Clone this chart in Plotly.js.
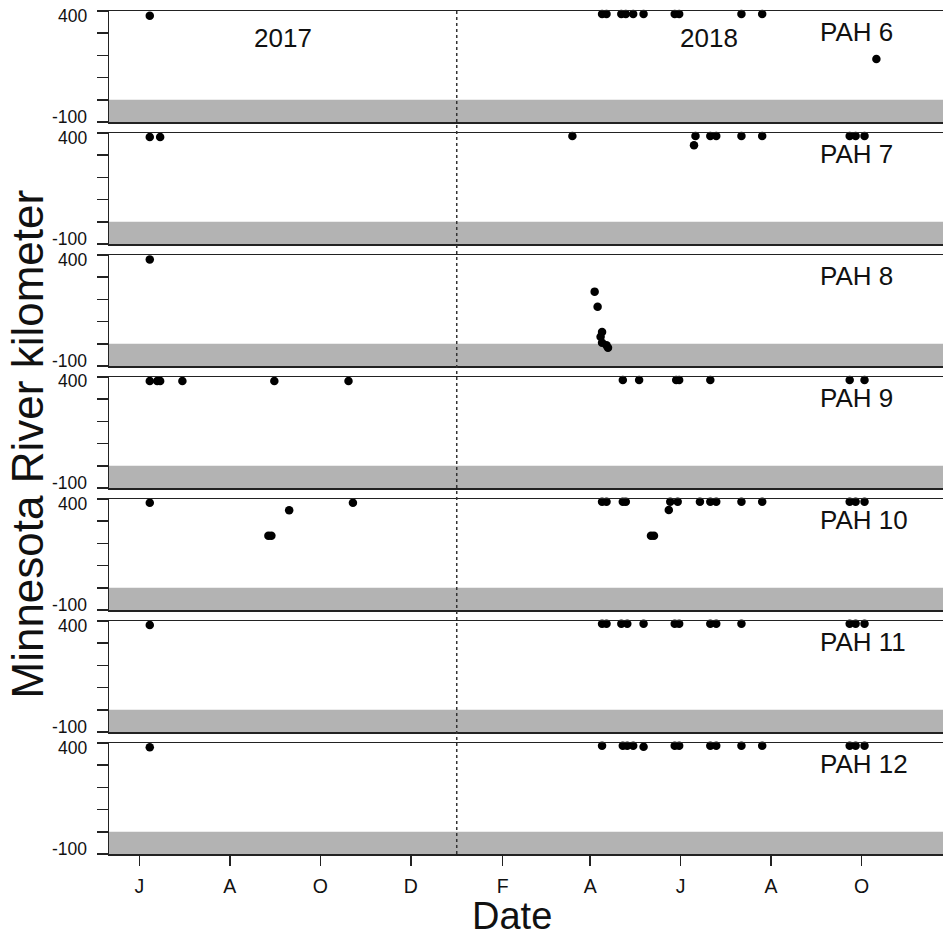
<!DOCTYPE html>
<html>
<head>
<meta charset="utf-8">
<script src="https://cdn.plot.ly/plotly-3.0.1.min.js"></script>
<style>html,body{margin:0;padding:0;background:#fff;}#chart{width:943px;height:939px;}</style>
</head>
<body>
<div id="chart"></div>
<script>
// ---- data ----
const panelNames = ['PAH 6','PAH 7','PAH 8','PAH 9','PAH 10','PAH 11','PAH 12'];

const pah6Dates = ['2017-06-08','2018-04-09','2018-04-12','2018-04-22','2018-04-25','2018-04-30','2018-05-07','2018-05-28','2018-05-31','2018-07-12','2018-07-26','2018-10-11'];
const pah6Km    = [379,387,387,387,387,387,387,387,387,387,387,184];

const pah7Dates = ['2017-06-08','2017-06-15','2018-03-20','2018-06-10','2018-06-11','2018-06-21','2018-06-25','2018-07-12','2018-07-26','2018-09-23','2018-09-27','2018-10-03'];
const pah7Km    = [382,382,386,345,387,387,387,387,387,387,387,387];

const pah8Dates = ['2017-06-08','2018-04-04','2018-04-06','2018-04-09','2018-04-08','2018-04-09','2018-04-12','2018-04-13'];
const pah8Km    = [380,235,167,53,32,5,-7,-18];

const pah9Dates = ['2017-06-08','2017-06-13','2017-06-15','2017-06-30','2017-08-31','2017-10-20','2018-04-23','2018-05-04','2018-05-29','2018-05-31','2018-06-21','2018-09-23','2018-10-03'];
const pah9Km    = [382,382,382,382,382,382,386,386,386,386,386,386,386];

const pah10Dates = ['2017-06-08','2017-08-27','2017-08-29','2017-09-10','2017-10-23','2018-04-09','2018-04-12','2018-04-23','2018-04-25','2018-05-12','2018-05-14','2018-05-24','2018-05-25','2018-05-30','2018-06-14','2018-06-21','2018-06-25','2018-07-12','2018-07-26','2018-09-23','2018-09-27','2018-10-03'];
const pah10Km    = [383,234,234,349,383,388,388,388,388,234,234,350,388,388,388,388,388,388,388,388,388,388];

const pah11Dates = ['2017-06-08','2018-04-09','2018-04-12','2018-04-22','2018-04-26','2018-05-07','2018-05-28','2018-05-31','2018-06-21','2018-06-25','2018-07-12','2018-09-23','2018-09-27','2018-10-03'];
const pah11Km    = [382,388,388,388,388,388,388,388,388,388,388,388,388,388];

const pah12Dates = ['2017-06-08','2018-04-09','2018-04-23','2018-04-26','2018-04-30','2018-05-07','2018-05-28','2018-05-31','2018-06-21','2018-06-25','2018-07-12','2018-07-26','2018-09-23','2018-09-27','2018-10-03'];
const pah12Km    = [381,388,388,388,388,383,388,388,388,388,388,388,388,388,388];

const xTickVals = ['2017-06-01','2017-08-01','2017-10-01','2017-12-01','2018-02-01','2018-04-01','2018-06-01','2018-08-01','2018-10-01'];
const xTickText = ['J','A','O','D','F','A','J','A','O'];
const yTickVals = [-100,0,100,200,300,400];
const yLabelVals = [400,-100];
const yLabelText = ['400','-100'];
const bandRange = [-100,0];
const yearBreak = '2018-01-01';
const yearLabels = ['2017','2018'];

// ---- layout ----
const allDates = [pah6Dates,pah7Dates,pah8Dates,pah9Dates,pah10Dates,pah11Dates,pah12Dates];
const allKm = [pah6Km,pah7Km,pah8Km,pah9Km,pah10Km,pah11Km,pah12Km];

const W = 943, H = 939;
const mT = 11, mB = 85, mL = 109, mR = 0;
const plotH = H - mT - mB;
const panelH = 111;
const gap = (plotH - 7*panelH)/6;
const font = 'Liberation Sans, Arial, sans-serif';
const lineCol = '#222';
const xRange = ['2017-05-11 12:00','2018-11-24 22:00'];

const traces = [];
const layout = {
  width: W, height: H,
  margin: {l: mL, r: mR, t: mT, b: mB, pad: 0},
  paper_bgcolor: '#fff', plot_bgcolor: '#fff',
  showlegend: false,
  font: {family: font, color: '#111'},
  shapes: [], annotations: []
};

for (let i = 0; i < 7; i++) {
  const n = i + 1;
  const xs = n === 1 ? 'x' : 'x' + n;
  const ys = n === 1 ? 'y' : 'y' + n;
  const xk = n === 1 ? 'xaxis' : 'xaxis' + n;
  const yk = n === 1 ? 'yaxis' : 'yaxis' + n;
  const top = 1 - (i*(panelH+gap))/plotH;
  const bot = 1 - (i*(panelH+gap)+panelH)/plotH;
  const isBottom = (i === 6);

  traces.push({
    type: 'scatter', mode: 'markers', x: allDates[i], y: allKm[i],
    xaxis: xs, yaxis: ys,
    marker: {color: '#000', size: 8.5}, hoverinfo: 'skip', cliponaxis: false
  });

  layout[xk] = {
    type: 'date', range: xRange, anchor: ys,
    showgrid: false, zeroline: false,
    showline: true, mirror: true, linecolor: lineCol, linewidth: 1.5,
    ticks: isBottom ? 'outside' : '', ticklen: 10, tickwidth: 1.5, tickcolor: lineCol,
    tickmode: 'array', tickvals: xTickVals, ticktext: xTickText,
    showticklabels: isBottom,
    tickfont: {family: font, size: 19.5, color: '#111'},
    ticklabelstandoff: 4
  };
  if (n > 1) layout[xk].matches = 'x';

  layout[yk] = {
    domain: [bot, top], range: [-100, 400], anchor: xs,
    showgrid: false, zeroline: false,
    showline: true, mirror: false, linecolor: lineCol, linewidth: 1.5,
    ticks: 'outside', ticklen: 11, tickwidth: 1.5, tickcolor: lineCol,
    tickmode: 'array', tickvals: yTickVals, showticklabels: false
  };

  layout.shapes.push({
    type: 'rect', xref: xs + ' domain', yref: ys,
    x0: 0, x1: 1, y0: bandRange[0], y1: bandRange[1],
    fillcolor: '#b3b3b3', line: {width: 0}, layer: 'below'
  });

  layout.annotations.push({
    text: panelNames[i], xref: 'paper', yref: ys + ' domain',
    x: (818 - mL)/(W - mL - mR), y: 1, xanchor: 'left', yanchor: 'middle', yshift: -21,
    showarrow: false, font: {family: font, size: 26, color: '#111'}
  });

  yLabelVals.forEach((v, k) => {
    layout.annotations.push({
      text: yLabelText[k], xref: 'paper', yref: ys, x: 0, y: v,
      xanchor: 'right', yanchor: 'middle', xshift: -20, yshift: k === 0 ? -4.5 : 5,
      showarrow: false, font: {family: font, size: 17.5, color: '#111'}
    });
  });
}

layout.shapes.push({
  type: 'line', xref: 'x', yref: 'paper', x0: yearBreak, x1: yearBreak, y0: 0, y1: 1,
  line: {color: '#333', width: 1.5, dash: 'dot'}
});

layout.annotations.push({
  text: yearLabels[0], xref: 'paper', yref: 'y domain', x: (283 - mL)/(W - mL), y: 1,
  xanchor: 'center', yanchor: 'middle', yshift: -27, showarrow: false,
  font: {family: font, size: 26, color: '#111'}
});
layout.annotations.push({
  text: yearLabels[1], xref: 'paper', yref: 'y domain', x: (708.5 - mL)/(W - mL), y: 1,
  xanchor: 'center', yanchor: 'middle', yshift: -27, showarrow: false,
  font: {family: font, size: 26, color: '#111'}
});

layout.annotations.push({
  text: 'Date', xref: 'paper', yref: 'paper', x: (512 - mL)/(W - mL), y: 0,
  xanchor: 'center', yanchor: 'middle', yshift: -62, showarrow: false,
  font: {family: font, size: 38, color: '#111'}
});
layout.annotations.push({
  text: 'Minnesota River kilometer', xref: 'paper', yref: 'paper', x: 0, y: 0.5,
  xanchor: 'center', yanchor: 'middle', xshift: -82, yshift: -12, textangle: -90, showarrow: false,
  font: {family: font, size: 44, color: '#111'}
});

Plotly.newPlot('chart', traces, layout, {staticPlot: true, displayModeBar: false});
</script>
</body>
</html>
